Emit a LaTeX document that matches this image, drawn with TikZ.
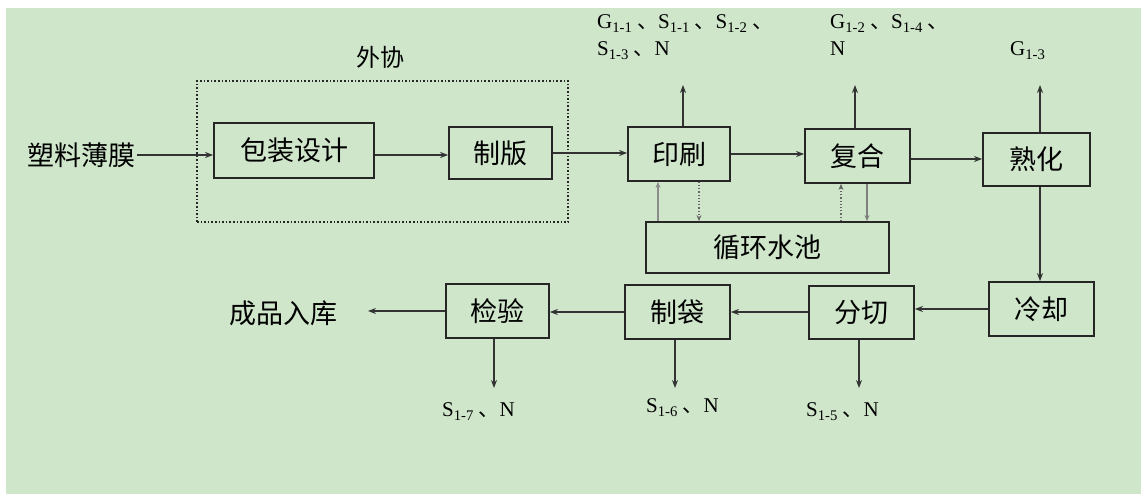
\documentclass[tikz,border=0pt]{standalone}
\usepackage{fontspec}
\setmainfont{Liberation Serif}
\newfontfamily\cjk{Noto Sans CJK SC}
\usetikzlibrary{arrows.meta,calc}
\definecolor{bg}{RGB}{207,230,203}
\newcommand{\dn}{{\cjk\ 、}}
\newcommand{\mysub}[1]{\textsubscript{#1}}
\begin{document}
\begin{tikzpicture}[x=1pt,y=-1pt,
  procbox/.style={draw=black!85, line width=1.8pt, font=\cjk\fontsize{27}{30}\selectfont, inner sep=0pt},
  cjktext/.style={font=\cjk\fontsize{27}{30}\selectfont, inner sep=1pt},
  arr/.style={-{Stealth[length=8pt,width=6pt]}, line width=1.6pt, draw=black!80},
  poolarr/.style={-{Stealth[length=6pt,width=5pt]}, line width=1.2pt, draw=black!60},
  lbl/.style={font=\fontsize{21}{24}\selectfont, inner sep=0pt}]
\useasboundingbox (0,0) rectangle (1141,494);
\fill[bg] (6,8) rectangle (1141,494);

% outsourcing frame
\node[draw=black!85, dotted, line width=1.6pt, minimum width=371pt, minimum height=141pt] (wx) at (382.5,151.5) {};
\node[cjktext, font=\cjk\fontsize{24}{28}\selectfont] (wxl) at (380,57) {外协};

% process boxes
\node[procbox, minimum width=160pt, minimum height=55pt] (bz) at (294,150.5) {包装设计};
\node[procbox, minimum width=103pt, minimum height=52pt] (zb) at (500.5,153) {制版};
\node[procbox, minimum width=102pt, minimum height=54pt] (ys) at (679,154) {印刷};
\node[procbox, minimum width=105pt, minimum height=54pt] (fh) at (857.5,156) {复合};
\node[procbox, minimum width=107pt, minimum height=53pt] (sh) at (1036.5,159.5) {熟化};
\node[procbox, minimum width=105pt, minimum height=54pt] (lq) at (1041.5,309) {冷却};
\node[procbox, minimum width=105pt, minimum height=53pt] (fq) at (861.5,312.5) {分切};
\node[procbox, minimum width=105pt, minimum height=54pt] (zd) at (677.5,312) {制袋};
\node[procbox, minimum width=103pt, minimum height=54pt] (jy) at (497.5,311) {检验};
\node[procbox, minimum width=243pt, minimum height=51pt] (pool) at (767.5,247.5) {循环水池};

% input / output texts
\node[cjktext] (src) at (81.5,155) {塑料薄膜};
\node[cjktext] (cp) at (283,313) {成品入库};

% main flow
\draw[arr] (src.east) -- (src.east -| bz.west);
\draw[arr] ([yshift=-4.5pt]bz.east) -- ([yshift=-4.5pt]bz.east -| zb.west);
\draw[arr] (zb.east) -- (zb.east -| ys.west);
\draw[arr] (ys.east) -- (ys.east -| fh.west);
\draw[arr] ([yshift=-3pt]fh.east) -- ([yshift=-3pt]fh.east -| sh.west);
\coordinate (shd) at ([xshift=3.5pt]sh.south);
\draw[arr] (shd) -- (shd |- lq.north);
\draw[arr] (lq.west) -- (lq.west -| fq.east);
\draw[arr] ([yshift=0.5pt]fq.west) -- ([yshift=0.5pt]fq.west -| zd.east);
\draw[arr] (zd.west) -- (zd.west -| jy.east);
\coordinate (cpend) at (368,311);
\draw[arr] (jy.west) -- (cpend);

% circulating water
\coordinate (p1) at ([xshift=-21pt]ys.south);
\coordinate (p2) at ([xshift=20pt]ys.south);
\coordinate (p3) at ([xshift=-16.5pt]fh.south);
\coordinate (p4) at ([xshift=9.5pt]fh.south);
\draw[poolarr, draw=black!45] (p1 |- pool.north) -- (p1);
\draw[poolarr, dotted] (p2) -- (p2 |- pool.north);
\draw[poolarr, dotted] (p3 |- pool.north) -- (p3);
\draw[poolarr, draw=black!50] (p4) -- (p4 |- pool.north);

% emissions up
\coordinate (ysup) at (683,85);
\coordinate (fhup) at (855,85);
\coordinate (shup) at (1040,85);
\draw[arr] (ysup |- ys.north) -- (ysup);
\draw[arr] (fhup |- fh.north) -- (fhup);
\draw[arr] (shup |- sh.north) -- (shup);

% emissions down
\coordinate (jyo) at (494,388);
\coordinate (zdo) at (675,388);
\coordinate (fqo) at (859,388);
\draw[arr] (jyo |- jy.south) -- (jyo);
\draw[arr] (zdo |- zd.south) -- (zdo);
\draw[arr] (fqo |- fq.south) -- (fqo);

% labels
\node[lbl, anchor=base west] (l1a) at (597,29) {G\mysub{1-1}\dn S\mysub{1-1}\dn S\mysub{1-2}\dn};
\node[lbl, anchor=base west] (l1b) at (597,56) {S\mysub{1-3}\dn N};
\node[lbl, anchor=base west] (l2a) at (830,29) {G\mysub{1-2}\dn S\mysub{1-4}\dn};
\node[lbl, anchor=base west] (l2b) at (830,56) {N};
\node[lbl, anchor=base west] (l3) at (1010,56) {G\mysub{1-3}};
\node[lbl, anchor=base west] (l4) at (442,417) {S\mysub{1-7}\dn N};
\node[lbl, anchor=base west] (l5) at (646,413) {S\mysub{1-6}\dn N};
\node[lbl, anchor=base west] (l6) at (806,417) {S\mysub{1-5}\dn N};
\end{tikzpicture}
\end{document}
